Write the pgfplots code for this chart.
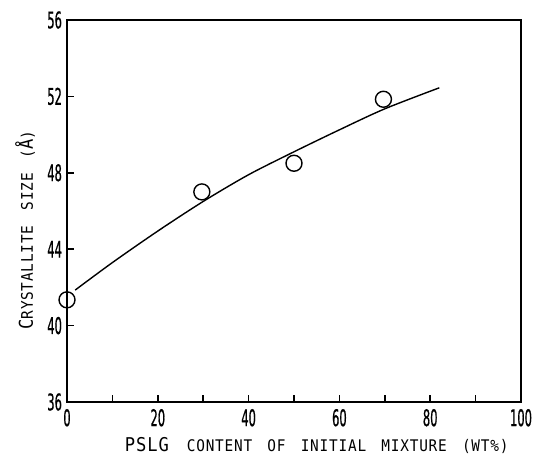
\documentclass[border=0pt]{standalone}
\usepackage{fontspec}
\usepackage{pgfplots}
\pgfplotsset{compat=1.18}
\newfontfamily\tickfont[FakeStretch=0.5, FakeBold=0.6]{DejaVu Sans}
\newfontfamily\labfont[LetterSpace=5, FakeStretch=0.9, WordSpace=1.6]{DejaVu Sans Mono}
\newcommand{\bg}{\fontsize{9.5}{9.5}\selectfont}
\newcommand{\sm}{\fontsize{8}{8}\selectfont}
\begin{document}
\begin{tikzpicture}
\begin{axis}[
  scale only axis,
  width=227pt, height=191pt,
  xmin=0, xmax=100, ymin=36, ymax=56,
  xtick={0,20,...,100},
  minor xtick={10,30,...,90},
  ytick={36,40,...,56},
  tick align=inside,
  tick pos=left,
  major tick length=3.5pt,
  minor tick length=3.5pt,
  every tick/.style={black, line width=0.8pt},
  axis line style={line width=1pt},
  /pgf/number format/assume math mode=true,
  ticklabel style={font=\tickfont\fontsize{11.5}{11.5}\selectfont},
  yticklabel style={xshift=1pt},
  xlabel={\labfont\bg PSLG \sm CONTENT OF INITIAL MIXTURE (WT\%)},
  ylabel={\labfont\bg C\sm RYSTALLITE SIZE (\bg Å\sm)},
  xlabel style={at={(axis description cs:0.55,-0.115)}, anchor=center},
  ylabel style={at={(axis description cs:-0.0925,0.45)}, anchor=center},
]
\addplot[black, line width=0.7pt, smooth] coordinates {
  (1.8,41.86) (10,43.3) (20,44.95) (30,46.5) (40,47.9) (50,49.1) (60,50.25) (70,51.35) (82,52.45)
};
\addplot[only marks, mark=o, mark size=4pt, mark options={line width=0.7pt, black}] coordinates {
  (0,41.35) (29.7,47.0) (50,48.5) (69.7,51.85)
};
\end{axis}
\pgfresetboundingbox
\path (-33.5pt,-29pt) rectangle (233pt,201pt);
\end{tikzpicture}
\end{document}
